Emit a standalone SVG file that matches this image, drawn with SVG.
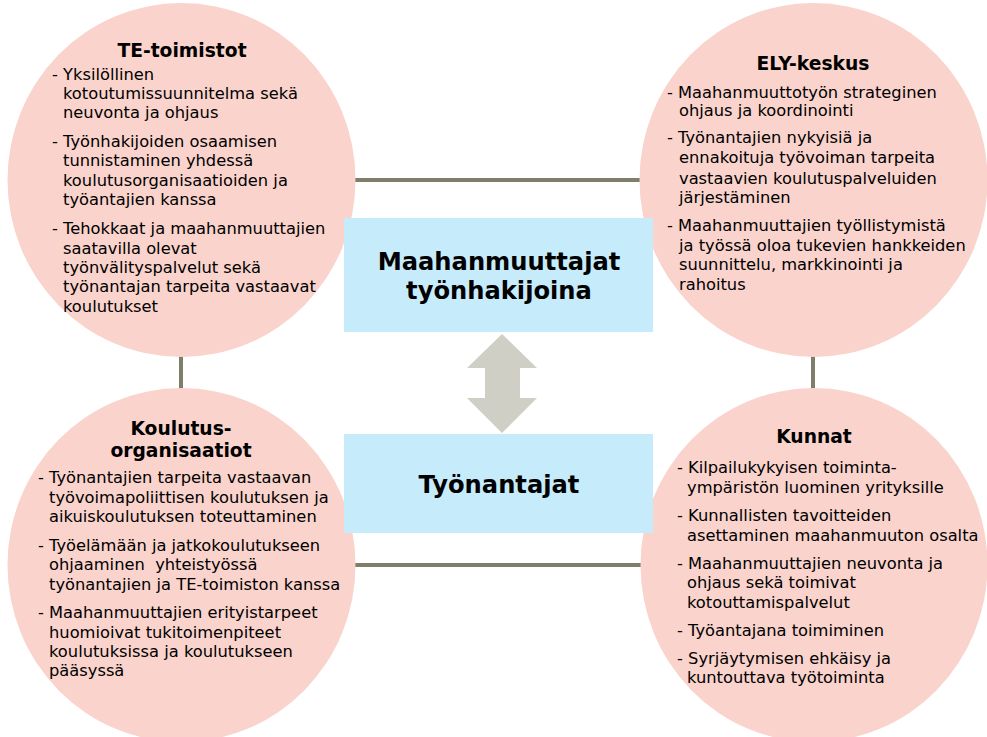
<svg xmlns="http://www.w3.org/2000/svg" width="987" height="737" viewBox="0 0 987 737">
<style>
.circ{fill:#F9D3CC;}
.box{fill:#C6ECFB;}
.conn{stroke:#7F7E6A;stroke-width:4;fill:none;}
.t{font-family:"DejaVu Sans","Verdana",sans-serif;font-size:16.3px;fill:#000;}
.h{font-family:"DejaVu Sans","Verdana",sans-serif;font-size:18.7px;font-weight:bold;fill:#000;text-anchor:middle;}
.c{font-family:"DejaVu Sans","Verdana",sans-serif;font-size:24.2px;font-weight:bold;fill:#000;text-anchor:middle;}
</style>
<rect width="987" height="737" fill="#FFFFFF"/>
<g id="connectors">
<line class="conn" x1="350" y1="180" x2="645" y2="180"/>
<line class="conn" x1="350" y1="565" x2="645" y2="565"/>
<line class="conn" x1="181" y1="350" x2="181" y2="395"/>
<line class="conn" x1="813" y1="350" x2="813" y2="395"/>
</g>
<g id="te-toimistot">
<ellipse class="circ" cx="181.5" cy="180" rx="174" ry="177"/>
<text class="h" x="182" y="57">TE-toimistot</text>
<text class="t" x="52" y="80">- Yksilöllinen</text>
<text class="t" x="63" y="99">kotoutumissuunnitelma sekä</text>
<text class="t" x="63" y="118">neuvonta ja ohjaus</text>
<text class="t" x="52" y="147">- Työnhakijoiden osaamisen</text>
<text class="t" x="63" y="166">tunnistaminen yhdessä</text>
<text class="t" x="63" y="186">koulutusorganisaatioiden ja</text>
<text class="t" x="63" y="205">työantajien kanssa</text>
<text class="t" x="52" y="234">- Tehokkaat ja maahanmuuttajien</text>
<text class="t" x="63" y="254">saatavilla olevat</text>
<text class="t" x="63" y="273">työnvälityspalvelut sekä</text>
<text class="t" x="63" y="292">työnantajan tarpeita vastaavat</text>
<text class="t" x="63" y="312">koulutukset</text>
</g>
<g id="ely-keskus">
<ellipse class="circ" cx="813.5" cy="180" rx="174" ry="177"/>
<text class="h" x="813" y="70">ELY-keskus</text>
<text class="t" x="667" y="98">- Maahanmuuttotyön strateginen</text>
<text class="t" x="679" y="116">ohjaus ja koordinointi</text>
<text class="t" x="667" y="143">- Työnantajien nykyisiä ja</text>
<text class="t" x="679" y="163">ennakoituja työvoiman tarpeita</text>
<text class="t" x="679" y="184">vastaavien koulutuspalveluiden</text>
<text class="t" x="679" y="203">järjestäminen</text>
<text class="t" x="667" y="231">- Maahanmuuttajien työllistymistä</text>
<text class="t" x="679" y="251">ja työssä oloa tukevien hankkeiden</text>
<text class="t" x="679" y="270">suunnittelu, markkinointi ja</text>
<text class="t" x="679" y="290">rahoitus</text>
</g>
<g id="koulutusorganisaatiot">
<ellipse class="circ" cx="181.5" cy="565" rx="174" ry="177"/>
<text class="h" x="181" y="435">Koulutus-</text>
<text class="h" x="181" y="457">organisaatiot</text>
<text class="t" x="38" y="483">- Työnantajien tarpeita vastaavan</text>
<text class="t" x="49" y="503">työvoimapoliittisen koulutuksen ja</text>
<text class="t" x="49" y="522">aikuiskoulutuksen toteuttaminen</text>
<text class="t" x="38" y="551">- Työelämään ja jatkokoulutukseen</text>
<text class="t" x="49" y="570" xml:space="preserve">ohjaaminen  yhteistyössä</text>
<text class="t" x="49" y="590">työnantajien ja TE-toimiston kanssa</text>
<text class="t" x="38" y="618">- Maahanmuuttajien erityistarpeet</text>
<text class="t" x="49" y="638">huomioivat tukitoimenpiteet</text>
<text class="t" x="49" y="657">koulutuksissa ja koulutukseen</text>
<text class="t" x="49" y="676">pääsyssä</text>
</g>
<g id="kunnat">
<ellipse class="circ" cx="814" cy="565" rx="173.5" ry="177"/>
<text class="h" x="814" y="443">Kunnat</text>
<text class="t" x="677" y="473">- Kilpailukykyisen toiminta-</text>
<text class="t" x="687" y="493">ympäristön luominen yrityksille</text>
<text class="t" x="677" y="521">- Kunnallisten tavoitteiden</text>
<text class="t" x="687" y="541">asettaminen maahanmuuton osalta</text>
<text class="t" x="677" y="569">- Maahanmuuttajien neuvonta ja</text>
<text class="t" x="687" y="588">ohjaus sekä toimivat</text>
<text class="t" x="687" y="608">kotouttamispalvelut</text>
<text class="t" x="677" y="636">- Työantajana toimiminen</text>
<text class="t" x="677" y="664">- Syrjäytymisen ehkäisy ja</text>
<text class="t" x="687" y="683">kuntouttava työtoiminta</text>
</g>
<g id="maahanmuuttajat">
<rect class="box" x="344" y="218" width="309" height="114"/>
<text class="c" x="499" y="270">Maahanmuuttajat</text>
<text class="c" x="499" y="299">työnhakijoina</text>
</g>
<g id="tyonantajat">
<rect class="box" x="344" y="434" width="309" height="99"/>
<text class="c" x="499" y="493">Työnantajat</text>
</g>
<g id="arrow">
<polygon points="502,334 537,368 520,368 520,398 537,398 502,433 467,398 485,398 485,368 467,368" fill="#CFCFC6"/>
</g>
</svg>
